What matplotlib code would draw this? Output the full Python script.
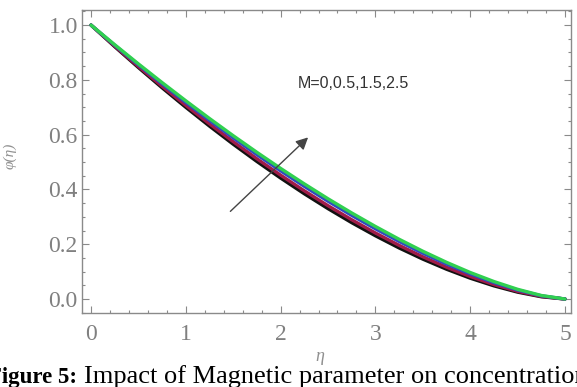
import matplotlib
matplotlib.use("Agg")
import matplotlib.pyplot as plt
from matplotlib.ticker import MultipleLocator

eta = [0.0, 0.25, 0.5, 0.75, 1.0, 1.25, 1.5, 1.75, 2.0, 2.25, 2.5, 2.75,
       3.0, 3.25, 3.5, 3.75, 4.0, 4.25, 4.5, 4.75, 5.0]
phi_M0 = [1.0, 0.9212, 0.8449, 0.7710, 0.6998, 0.6311, 0.5651, 0.5020, 0.4416,
          0.3842, 0.3299, 0.2787, 0.2309, 0.1864, 0.1457, 0.1088, 0.0761,
          0.0481, 0.0251, 0.0083, 0.0]
phi_M05 = [1.0, 0.9233, 0.8489, 0.7767, 0.7069, 0.6394, 0.5744, 0.5120, 0.4522,
           0.3950, 0.3407, 0.2894, 0.2411, 0.1960, 0.1543, 0.1163, 0.0823,
           0.0529, 0.0282, 0.0097, 0.0]
phi_M15 = [1.0, 0.9265, 0.8550, 0.7853, 0.7177, 0.6520, 0.5884, 0.5271, 0.4680,
           0.4113, 0.3570, 0.3053, 0.2564, 0.2103, 0.1673, 0.1277, 0.0917,
           0.0599, 0.0329, 0.0118, 0.0]
phi_M25 = [1.0, 0.9283, 0.8583, 0.7901, 0.7236, 0.6589, 0.5962, 0.5355, 0.4768,
           0.4203, 0.3660, 0.3142, 0.2649, 0.2182, 0.1745, 0.1340, 0.0969,
           0.0639, 0.0355, 0.0130, 0.0]
series = [phi_M0, phi_M05, phi_M15, phi_M25]
colors = ["#111111", "#a01c48", "#3048c0", "#30d050"]

x_ticks = [0, 1, 2, 3, 4, 5]
y_ticks = [0.0, 0.2, 0.4, 0.6, 0.8, 1.0]
y_tick_labels = ["0.0", "0.2", "0.4", "0.6", "0.8", "1.0"]
annotation = "M=0,0.5,1.5,2.5"

W, H = 577, 387
fig = plt.figure(figsize=(W / 100, H / 100), dpi=100)
ax = fig.add_axes([82 / W, 1 - 313 / H, (571 - 82) / W, (313 - 10) / H])

for ys, c in zip(series, colors):
    ax.plot(eta, ys, color=c, lw=2.4, solid_capstyle="round")

ax.set_xlim(-0.095, 5.063)
ax.set_ylim(-0.051, 1.055)

gray = "#8a8a8a"
for s in ax.spines.values():
    s.set_color(gray)
    s.set_linewidth(1.0)
ax.set_xticks(x_ticks)
ax.set_yticks(y_ticks)
ax.set_yticklabels(y_tick_labels)
ax.xaxis.set_minor_locator(MultipleLocator(0.2))
ax.yaxis.set_minor_locator(MultipleLocator(0.05))
ax.tick_params(which="both", direction="in", top=True, right=True, color=gray,
               labelcolor="#808080", labelsize=17, width=0.8)
ax.tick_params(which="major", length=5)
ax.tick_params(axis="x", which="major", pad=8)
ax.tick_params(axis="y", which="major", pad=3)
ax.tick_params(which="minor", length=2.5)
for lab in ax.get_xticklabels() + ax.get_yticklabels():
    lab.set_fontfamily("Liberation Serif")

ax.set_xlabel("η", family="Liberation Serif", style="italic", fontsize=13,
              color="#909090")
ax.xaxis.set_label_coords((320 - 82) / 489, (313 - 348) / 303)
ax.set_ylabel("φ(η)", family="Liberation Serif", style="italic", fontsize=11,
              color="#909090")
ax.yaxis.set_label_coords((17 - 82) / 489, (313 - 156) / 303)

ax.annotate("", xy=(2.29, 0.59), xytext=(1.47, 0.32),
            arrowprops=dict(arrowstyle="-|>", color="#444444", lw=1.0,
                            mutation_scale=18, shrinkA=0, shrinkB=0))
ax.text(2.77, 0.785, annotation, family="Liberation Sans", fontsize=11.5,
        color="#333333", ha="center", va="center")

t1 = fig.text(-12 / W, 1 - 383 / H, "Figure 5:", family="Liberation Serif",
              weight="bold", fontsize=16.5, color="black")
fig.canvas.draw()
bb = t1.get_window_extent(fig.canvas.get_renderer())
fig.text((bb.x1 + 7) / W, 1 - 383 / H, "Impact of Magnetic parameter on concentration",
         family="Liberation Serif", fontsize=19, color="black")

fig.savefig("out.png", dpi=100)
